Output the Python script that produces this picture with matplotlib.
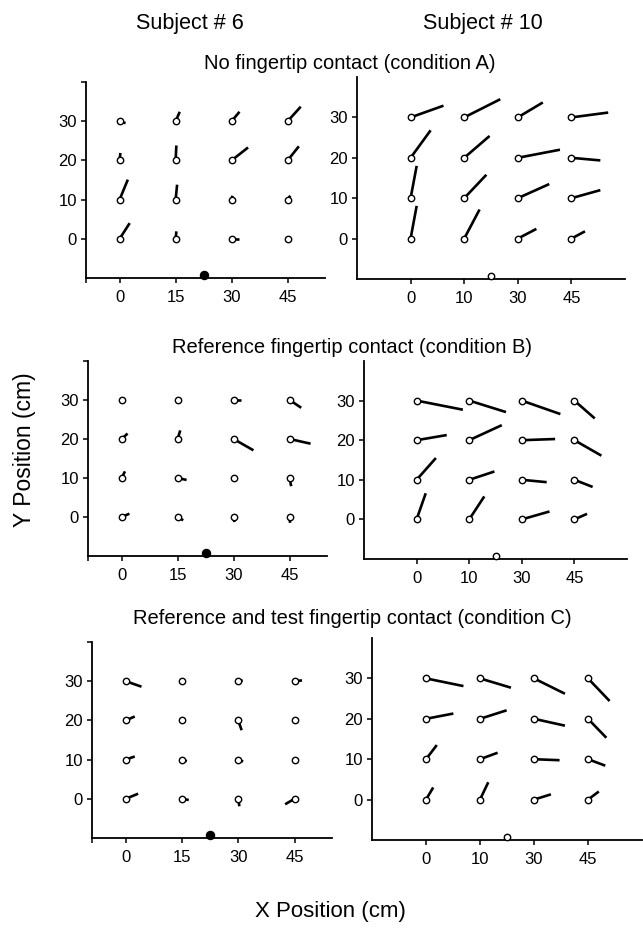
import matplotlib
matplotlib.use("Agg")
import matplotlib.pyplot as plt
import numpy as np

plt.rcParams['font.family'] = ['Liberation Sans', 'DejaVu Sans']

# grid of target positions (cm)
grid_x = [0, 15, 30, 45]
grid_y = [30, 20, 10, 0]   # rows top to bottom
left_xticklabels = ['0', '15', '30', '45']
right_xticklabels = ['0', '10', '30', '45']
yticklabels = ['0', '10', '20', '30']
subject_x = 22.5

titles = ["No fingertip contact (condition A)",
          "Reference fingertip contact (condition B)",
          "Reference and test fingertip contact (condition C)"]
subjects = ["Subject # 6", "Subject # 10"]

# error vectors (cm), rows y=30,20,10,0 ; cols x=0,15,30,45
s6_A_dx = [[1.6, 1.1, 2.1, 3.5], [0.2, 0.2, 4.4, 3.0], [2.2, 0.4, 0.2, 0.7], [2.7, 0.2, 1.9, 0.8]]
s6_A_dy = [[-0.5, 2.4, 2.4, 3.7], [1.9, 3.8, 3.3, 3.6], [5.1, 3.8, 1.0, 1.0], [4.0, 1.9, 0.0, 0.2]]
s10_A_dx = [[9.2, 10.1, 7.0, 10.3], [5.6, 7.1, 11.8, 8.1], [1.7, 6.2, 8.8, 8.1], [1.7, 4.3, 5.2, 3.8]]
s10_A_dy = [[2.9, 4.5, 3.7, 1.2], [6.8, 5.4, 2.0, -0.65], [8.0, 5.8, 3.5, 2.0], [8.1, 7.2, 2.4, 1.8]]

s6_B_dx = [[0.4, 0.2, 2.1, 3.1], [1.6, 0.7, 5.3, 5.6], [0.9, 2.4, 0.9, 0.4], [2.1, 1.5, 0.2, 0.1]]
s6_B_dy = [[0.6, 0.6, 0.0, -2.0], [1.4, 2.2, -2.9, -1.2], [1.7, -0.5, -0.3, -2.1], [0.85, -0.85, -1.3, -1.5]]
s10_B_dx = [[13.2, 10.5, 11.0, 5.8], [8.6, 9.3, 9.5, 7.7], [5.5, 7.2, 7.1, 5.2], [2.6, 4.3, 7.9, 3.6]]
s10_B_dy = [[-2.3, -2.9, -3.4, -4.5], [1.3, 3.8, 0.3, -3.9], [5.5, 2.1, -0.6, -1.8], [6.6, 5.8, 2.0, 1.4]]

s6_C_dx = [[4.2, 0.0, 1.2, 2.0], [2.4, 0.0, 0.9, 0.0], [2.4, 1.3, 1.3, 0.0], [3.3, 1.8, 0.3, -2.5]]
s6_C_dy = [[-1.4, 0.0, 0.2, 0.2], [1.0, 0.0, -2.5, 0.0], [0.8, -0.4, -0.5, 0.0], [1.3, -0.3, -1.9, -1.4]]
s10_C_dx = [[10.4, 8.6, 8.6, 6.0], [7.6, 7.4, 8.6, 5.1], [3.0, 4.9, 7.1, 4.8], [2.0, 2.3, 4.7, 3.0]]
s10_C_dy = [[-1.9, -2.3, -3.8, -5.6], [1.3, 2.1, -1.7, -4.7], [3.5, 1.6, -0.25, -1.6], [3.0, 4.3, 1.3, 2.0]]

W, H = 643, 940
fig = plt.figure(figsize=(W / 100, H / 100), dpi=100)


def px_axes(x0, x1, top, bottom):
    # axes box given in pixel coordinates of the reference
    return fig.add_axes([x0 / W, (H - bottom) / H, (x1 - x0) / W, (bottom - top) / H])


def draw_panel(ax, dx, dy, left_side):
    dx = np.array(dx)
    dy = np.array(dy)
    for i, y in enumerate(grid_y):
        for j, x in enumerate(grid_x):
            ax.plot([x, x + dx[i, j]], [y, y + dy[i, j]], color='black', lw=1.9,
                    solid_capstyle='butt', zorder=2)
    gx, gy = np.meshgrid(grid_x, grid_y)
    ax.plot(gx.ravel(), gy.ravel(), 'o', ms=4.6, mfc='white', mec='black', mew=1.0, zorder=3)

    for s in ['top', 'right']:
        ax.spines[s].set_visible(False)
    for s in ['left', 'bottom']:
        ax.spines[s].set_linewidth(1.3)

    ax.set_ylim(-10, 40)
    if left_side:
        ax.set_xlim(-9, 55)
        ax.set_xticks([-9] + grid_x)
        ax.set_xticklabels([''] + left_xticklabels)
        ax.set_yticks([0, 10, 20, 30, 40])
        ax.set_yticklabels(yticklabels + [''])
        ax.plot([subject_x], [-9.2], 'o', ms=5.8, color='black', clip_on=False, zorder=4)
    else:
        ax.set_xlim(-15, 60)
        ax.set_xticks(grid_x)
        ax.set_xticklabels(right_xticklabels)
        ax.set_yticks([0, 10, 20, 30])
        ax.set_yticklabels(yticklabels)
        ax.plot([subject_x], [-9.2], 'o', ms=4.6, mfc='white', mec='black', mew=1.0,
                clip_on=False, zorder=4)
    ax.tick_params(axis='both', labelsize=12, length=3.5, width=1.1, direction='out')
    ax.tick_params(axis='x', pad=5)
    ax.tick_params(axis='y', pad=3)


panels = [
    ((86, 325, 82, 278), s6_A_dx, s6_A_dy, True),
    ((357, 625, 77, 279), s10_A_dx, s10_A_dy, False),
    ((88, 327, 361, 556), s6_B_dx, s6_B_dy, True),
    ((364, 627, 361, 559), s10_B_dx, s10_B_dy, False),
    ((92, 332, 642, 838), s6_C_dx, s6_C_dy, True),
    ((372, 642, 638, 840), s10_C_dx, s10_C_dy, False),
]

for box, dx, dy, left_side in panels:
    ax = px_axes(*box)
    draw_panel(ax, dx, dy, left_side)

# text
fig.text(190 / W, 1 - 29 / H, subjects[0], ha='center', va='baseline', fontsize=15.5)
fig.text(483 / W, 1 - 29 / H, subjects[1], ha='center', va='baseline', fontsize=15.5)
fig.text(350 / W, 1 - 69 / H, titles[0], ha='center', va='baseline', fontsize=14.5)
fig.text(352 / W, 1 - 353 / H, titles[1], ha='center', va='baseline', fontsize=14.5)
fig.text(352 / W, 1 - 624 / H, titles[2], ha='center', va='baseline', fontsize=14.5)
fig.text(25 / W, 1 - 450 / H, "Y Position (cm)", rotation=90, ha='center', va='center', fontsize=16.5)
fig.text(330 / W, 1 - 912 / H, "X Position (cm)", ha='center', va='center', fontsize=16)

fig.savefig("out.png", dpi=100)
